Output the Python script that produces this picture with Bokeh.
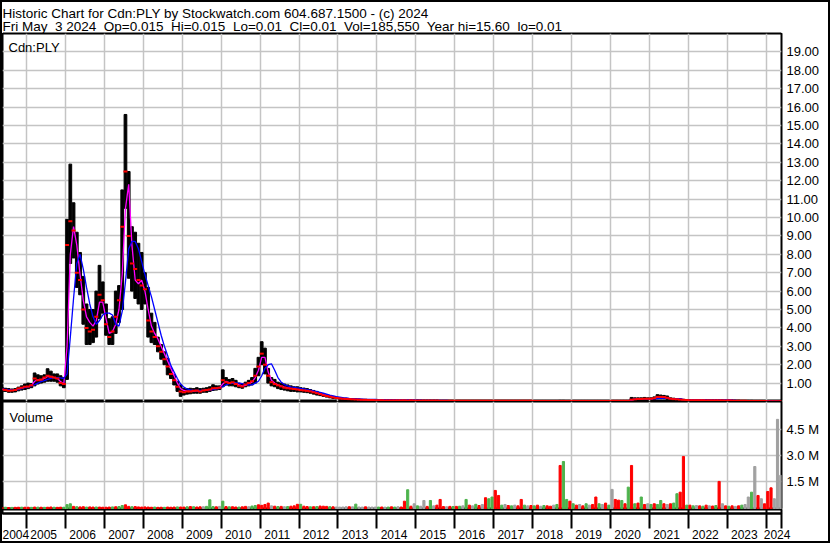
from bokeh.plotting import figure
from bokeh.models import (Range1d, LinearAxis, FixedTicker, Grid, Label, Span,
                          NumeralTickFormatter, PrintfTickFormatter, CustomJSTickFormatter,
                          ColumnDataSource)
from bokeh.layouts import column
from bokeh.embed import file_html
from bokeh.resources import INLINE

FONT = "Liberation Sans"

# ------------------------------------------------------------------ data
start_year, start_month = 2004, 5          # first monthly bar: May 2004
x_view = (2004.383, 2024.394)              # visible date span (fractional years)

price_high = [
    0.75, 0.72, 0.70, 0.68, 0.70, 0.78, 0.85, 0.95,                          # 2004
    1.00, 0.98, 1.55, 1.45, 1.40, 1.45, 1.78, 1.65, 1.50, 1.50, 1.40, 1.30,  # 2005
    9.9, 12.9, 10.8, 9.2, 8.1, 6.8, 5.3, 5.0, 5.0, 6.0, 7.4, 6.5,            # 2006
    5.3, 4.5, 4.6, 6.0, 6.3, 11.5, 15.6, 12.5, 9.5, 9.2, 8.6, 8.1,           # 2007
    7.0, 6.2, 4.8, 4.3, 3.5, 3.1, 2.7, 2.35, 1.8, 1.45, 1.1, 0.9,            # 2008
    0.70, 0.70, 0.72, 0.70, 0.75, 0.70, 0.72, 0.75, 0.80, 0.91, 0.85, 0.85,  # 2009
    1.72, 1.30, 1.20, 1.25, 1.15, 1.00, 0.95, 1.05, 1.15, 1.30, 1.80, 2.40,  # 2010
    3.25, 2.90, 1.80, 1.30, 1.20, 1.05, 1.00, 0.95, 0.90, 0.85, 0.80, 0.80,  # 2011
    0.75, 0.73, 0.70, 0.65, 0.60, 0.55, 0.48, 0.42, 0.36, 0.32, 0.28, 0.24,  # 2012
    0.21, 0.19, 0.17, 0.16, 0.15, 0.14, 0.13, 0.12, 0.12, 0.11, 0.10, 0.10,  # 2013
    0.10, 0.10, 0.09, 0.09, 0.09, 0.08, 0.08, 0.08, 0.08, 0.08, 0.09, 0.08,  # 2014
    0.08, 0.07, 0.07, 0.07, 0.07, 0.07, 0.07, 0.06, 0.06, 0.06, 0.06, 0.06,  # 2015
    0.06, 0.06, 0.06, 0.06, 0.06, 0.06, 0.06, 0.06, 0.06, 0.06, 0.06, 0.06,  # 2016
    0.06, 0.06, 0.06, 0.06, 0.06, 0.06, 0.06, 0.06, 0.06, 0.06, 0.06, 0.06,  # 2017
    0.05, 0.05, 0.05, 0.05, 0.05, 0.05, 0.05, 0.05, 0.06, 0.06, 0.05, 0.05,  # 2018
    0.05, 0.05, 0.05, 0.05, 0.05, 0.05, 0.05, 0.05, 0.05, 0.05, 0.05, 0.05,  # 2019
    0.05, 0.05, 0.05, 0.05, 0.05, 0.05, 0.22, 0.20, 0.20, 0.20, 0.22, 0.20,  # 2020
    0.20, 0.25, 0.37, 0.35, 0.33, 0.30, 0.20, 0.18, 0.16, 0.15, 0.12, 0.10,  # 2021
    0.10, 0.10, 0.10, 0.10, 0.10, 0.10, 0.09, 0.09, 0.09, 0.09, 0.09, 0.08,  # 2022
    0.10, 0.08, 0.07, 0.07, 0.06, 0.06, 0.06, 0.06, 0.05, 0.05, 0.05, 0.05,  # 2023
    0.04, 0.04, 0.03, 0.03, 0.015,                                           # 2024
]
price_low = [
    0.55, 0.55, 0.50, 0.50, 0.52, 0.58, 0.62, 0.65,
    0.70, 0.75, 0.85, 0.95, 1.00, 1.05, 1.10, 1.10, 1.10, 1.05, 0.85, 0.75,
    1.2, 7.5, 7.8, 6.2, 5.8, 4.2, 3.1, 3.1, 3.2, 3.5, 4.5, 4.8,
    3.6, 3.1, 3.1, 3.7, 4.3, 5.0, 10.5, 6.7, 6.0, 5.6, 5.3, 5.0,
    5.3, 3.5, 3.2, 3.1, 2.7, 2.3, 2.0, 1.45, 1.25, 0.9, 0.55, 0.28,
    0.35, 0.40, 0.42, 0.45, 0.45, 0.45, 0.50, 0.50, 0.55, 0.60, 0.62, 0.65,
    0.80, 0.90, 0.85, 0.85, 0.80, 0.75, 0.72, 0.80, 0.85, 0.90, 1.00, 1.40,
    2.00, 1.50, 1.00, 0.85, 0.80, 0.70, 0.65, 0.62, 0.58, 0.55, 0.55, 0.52,
    0.52, 0.50, 0.48, 0.45, 0.40, 0.35, 0.32, 0.28, 0.24, 0.20, 0.17, 0.15,
    0.13, 0.12, 0.11, 0.10, 0.09, 0.08, 0.08, 0.07, 0.07, 0.06, 0.06, 0.05,
    0.05, 0.05, 0.05, 0.04, 0.04, 0.04, 0.04, 0.04, 0.04, 0.04, 0.04, 0.04,
    0.03, 0.03, 0.03, 0.03, 0.03, 0.03, 0.03, 0.03, 0.03, 0.03, 0.03, 0.03,
    0.02, 0.02, 0.02, 0.02, 0.02, 0.02, 0.02, 0.02, 0.02, 0.02, 0.02, 0.02,
    0.02, 0.02, 0.02, 0.02, 0.02, 0.02, 0.02, 0.02, 0.02, 0.02, 0.02, 0.02,
    0.02, 0.02, 0.02, 0.02, 0.02, 0.02, 0.02, 0.02, 0.02, 0.02, 0.02, 0.02,
    0.02, 0.02, 0.02, 0.02, 0.02, 0.02, 0.02, 0.02, 0.02, 0.02, 0.02, 0.02,
    0.02, 0.02, 0.02, 0.02, 0.02, 0.02, 0.04, 0.06, 0.08, 0.08, 0.10, 0.10,
    0.10, 0.10, 0.15, 0.15, 0.15, 0.12, 0.10, 0.08, 0.08, 0.07, 0.06, 0.05,
    0.04, 0.04, 0.04, 0.04, 0.04, 0.04, 0.04, 0.04, 0.04, 0.04, 0.04, 0.03,
    0.03, 0.03, 0.02, 0.02, 0.02, 0.02, 0.02, 0.02, 0.02, 0.02, 0.02, 0.02,
    0.01, 0.01, 0.01, 0.01, 0.01,
]
price_close = [
    0.65, 0.62, 0.58, 0.60, 0.62, 0.70, 0.75, 0.80,
    0.82, 0.88, 1.25, 1.15, 1.20, 1.30, 1.40, 1.35, 1.30, 1.25, 1.00, 0.95,
    8.5, 9.8, 9.3, 7.0, 6.6, 5.0, 4.0, 3.8, 3.9, 4.6, 5.8, 5.5,
    4.2, 3.5, 3.8, 4.6, 5.5, 9.5, 12.5, 9.0, 7.5, 7.2, 6.6, 6.3,
    6.1, 4.4, 3.8, 3.5, 3.0, 2.7, 2.3, 1.9, 1.5, 1.15, 0.8, 0.55,
    0.50, 0.55, 0.55, 0.58, 0.60, 0.55, 0.60, 0.62, 0.65, 0.72, 0.72, 0.75,
    1.15, 1.05, 1.00, 1.05, 0.95, 0.85, 0.82, 0.92, 1.00, 1.10, 1.40, 1.90,
    2.60, 2.00, 1.40, 1.05, 0.95, 0.88, 0.82, 0.75, 0.72, 0.70, 0.68, 0.65,
    0.62, 0.60, 0.58, 0.55, 0.50, 0.45, 0.40, 0.34, 0.30, 0.26, 0.22, 0.19,
    0.17, 0.15, 0.14, 0.13, 0.12, 0.11, 0.10, 0.09, 0.09, 0.08, 0.08, 0.07,
    0.07, 0.07, 0.06, 0.06, 0.06, 0.06, 0.06, 0.06, 0.06, 0.05, 0.06, 0.05,
    0.05, 0.05, 0.05, 0.05, 0.05, 0.05, 0.05, 0.04, 0.04, 0.04, 0.04, 0.04,
    0.04, 0.04, 0.04, 0.04, 0.04, 0.04, 0.04, 0.04, 0.04, 0.04, 0.04, 0.04,
    0.04, 0.04, 0.04, 0.04, 0.04, 0.04, 0.04, 0.04, 0.04, 0.04, 0.04, 0.04,
    0.03, 0.03, 0.03, 0.03, 0.03, 0.03, 0.03, 0.03, 0.03, 0.03, 0.03, 0.03,
    0.03, 0.03, 0.03, 0.03, 0.03, 0.03, 0.03, 0.03, 0.03, 0.03, 0.03, 0.03,
    0.035, 0.035, 0.035, 0.035, 0.035, 0.035, 0.10, 0.12, 0.14, 0.14, 0.15, 0.15,
    0.15, 0.18, 0.25, 0.25, 0.24, 0.20, 0.15, 0.13, 0.12, 0.10, 0.09, 0.08,
    0.07, 0.07, 0.07, 0.07, 0.07, 0.06, 0.06, 0.06, 0.06, 0.06, 0.06, 0.05,
    0.06, 0.05, 0.04, 0.04, 0.04, 0.04, 0.03, 0.03, 0.03, 0.03, 0.03, 0.03,
    0.02, 0.02, 0.015, 0.01, 0.01,
]
ma_short = [   # magenta average
    0.66, 0.63, 0.60, 0.60, 0.62, 0.68, 0.74, 0.79,
    0.80, 0.86, 1.10, 1.18, 1.18, 1.26, 1.36, 1.36, 1.30, 1.26, 1.08, 0.95,
    3.0, 8.0, 9.5, 8.5, 6.9, 5.5, 4.6, 4.3, 4.1, 4.4, 5.4, 5.4,
    4.5, 3.7, 3.8, 4.2, 5.0, 6.9, 10.5, 11.8, 8.5, 6.6, 6.4, 6.6,
    6.0, 5.0, 4.1, 3.7, 3.4, 3.0, 2.6, 2.2, 1.8, 1.4, 1.0, 0.7,
    0.60, 0.56, 0.56, 0.57, 0.58, 0.58, 0.60, 0.61, 0.64, 0.68, 0.72, 0.74,
    0.95, 1.10, 1.03, 1.02, 1.00, 0.90, 0.84, 0.88, 0.97, 1.05, 1.30, 1.70,
    2.40, 2.40, 1.60, 1.15, 1.00, 0.90, 0.84, 0.78, 0.74, 0.71, 0.69, 0.66,
    0.63, 0.61, 0.59, 0.56, 0.52, 0.47, 0.42, 0.37, 0.32, 0.28, 0.24, 0.20,
    0.18, 0.16, 0.14, 0.13, 0.12, 0.11, 0.10, 0.10, 0.09, 0.09, 0.08, 0.08,
    0.07, 0.07, 0.07, 0.06, 0.06, 0.06, 0.06, 0.06, 0.06, 0.06, 0.06, 0.06,
    0.05, 0.05, 0.05, 0.05, 0.05, 0.05, 0.05, 0.05, 0.04, 0.04, 0.04, 0.04,
    0.04, 0.04, 0.04, 0.04, 0.04, 0.04, 0.04, 0.04, 0.04, 0.04, 0.04, 0.04,
    0.04, 0.04, 0.04, 0.04, 0.04, 0.04, 0.04, 0.04, 0.04, 0.04, 0.04, 0.04,
    0.035, 0.035, 0.035, 0.035, 0.035, 0.035, 0.035, 0.035, 0.035, 0.035, 0.035, 0.035,
    0.03, 0.03, 0.03, 0.03, 0.03, 0.03, 0.03, 0.03, 0.03, 0.03, 0.03, 0.03,
    0.035, 0.035, 0.035, 0.035, 0.035, 0.035, 0.08, 0.11, 0.13, 0.14, 0.14, 0.15,
    0.15, 0.17, 0.22, 0.25, 0.24, 0.21, 0.16, 0.14, 0.12, 0.11, 0.10, 0.08,
    0.07, 0.07, 0.07, 0.07, 0.07, 0.065, 0.06, 0.06, 0.06, 0.06, 0.06, 0.06,
    0.08, 0.06, 0.05, 0.04, 0.04, 0.04, 0.035, 0.03, 0.03, 0.03, 0.03, 0.03,
    0.03, 0.02, 0.02, 0.015, 0.012,
]
ma_long = [    # blue average
    0.68, 0.66, 0.64, 0.63, 0.63, 0.65, 0.70, 0.75,
    0.80, 0.85, 0.92, 1.00, 1.08, 1.14, 1.20, 1.26, 1.30, 1.30, 1.28, 1.25,
    1.5, 3.5, 5.6, 7.5, 8.0, 7.2, 6.2, 5.3, 4.6, 4.2, 4.4, 4.7,
    4.8, 4.8, 4.7, 4.2, 4.1, 4.9, 6.5, 8.3, 8.7, 8.7, 8.3, 7.6,
    6.9, 6.3, 5.7, 5.0, 4.3, 3.6, 3.0, 2.5, 1.95, 1.6, 1.25, 0.95,
    0.78, 0.68, 0.63, 0.60, 0.60, 0.60, 0.60, 0.60, 0.62, 0.65, 0.68, 0.72,
    0.80, 0.90, 0.97, 1.00, 1.00, 1.00, 0.97, 0.93, 0.90, 0.90, 1.00, 1.10,
    1.40, 1.80, 2.00, 2.05, 1.70, 1.30, 1.05, 0.92, 0.85, 0.80, 0.77, 0.74,
    0.71, 0.68, 0.65, 0.62, 0.58, 0.54, 0.50, 0.45, 0.40, 0.35, 0.31, 0.27,
    0.24, 0.21, 0.19, 0.17, 0.16, 0.15, 0.14, 0.13, 0.12, 0.12, 0.11, 0.11,
    0.10, 0.10, 0.10, 0.09, 0.09, 0.09, 0.08, 0.08, 0.08, 0.08, 0.07, 0.07,
    0.07, 0.07, 0.06, 0.06, 0.06, 0.06, 0.06, 0.06, 0.06, 0.06, 0.05, 0.05,
    0.05, 0.05, 0.05, 0.05, 0.05, 0.05, 0.05, 0.05, 0.05, 0.05, 0.05, 0.05,
    0.05, 0.05, 0.05, 0.05, 0.05, 0.05, 0.05, 0.05, 0.05, 0.05, 0.05, 0.05,
    0.045, 0.045, 0.045, 0.045, 0.045, 0.045, 0.045, 0.045, 0.045, 0.045, 0.045, 0.045,
    0.04, 0.04, 0.04, 0.04, 0.04, 0.04, 0.04, 0.04, 0.04, 0.04, 0.04, 0.04,
    0.04, 0.04, 0.04, 0.04, 0.04, 0.04, 0.10, 0.14, 0.14, 0.14, 0.14, 0.14,
    0.14, 0.15, 0.16, 0.17, 0.17, 0.17, 0.16, 0.15, 0.15, 0.14, 0.11, 0.10,
    0.10, 0.10, 0.09, 0.09, 0.09, 0.09, 0.08, 0.08, 0.08, 0.08, 0.08, 0.08,
    0.08, 0.07, 0.06, 0.05, 0.05, 0.05, 0.04, 0.04, 0.04, 0.04, 0.04, 0.04,
    0.035, 0.03, 0.03, 0.025, 0.02,
]
volume_k = [   # thousands of shares
    20, 30, 15, 20, 25, 30, 35, 30,
    30, 25, 40, 35, 30, 25, 30, 45, 30, 25, 35, 30,
    180, 230, 80, 60, 50, 60, 40, 50, 40, 45, 40, 30,
    30, 40, 50, 60, 70, 130, 170, 80, 60, 70, 50, 40,
    50, 40, 30, 40, 25, 30, 25, 40, 30, 40, 50, 45,
    40, 55, 70, 60, 45, 55, 60, 80, 460, 70, 55, 80,
    380, 70, 55, 60, 45, 40, 55, 80, 60, 100, 130, 170,
    140, 190, 270, 110, 90, 70, 80, 60, 70, 90, 110, 200,
    200, 90, 70, 55, 60, 70, 100, 90, 80, 60, 55, 45,
    40, 45, 55, 60, 55, 210, 45, 40, 55, 45, 40, 40,
    40, 45, 35, 40, 55, 40, 60, 45, 380, 1040, 90, 230,
    110, 90, 420, 80, 420, 110, 150, 480, 70, 60, 80, 70,
    80, 90, 110, 480, 150, 110, 200, 130, 190, 580, 520, 620,
    1000, 710, 150, 190, 130, 110, 150, 110, 480, 150, 110, 130,
    110, 150, 90, 130, 110, 90, 150, 190, 2440, 2670, 480, 380,
    230, 150, 190, 110, 230, 150, 190, 620, 230, 190, 270, 150,
    1060, 480, 440, 420, 230, 1190, 2440, 230, 270, 620, 190, 230,
    190, 230, 190, 420, 230, 190, 230, 270, 810, 900, 2960, 150,
    150, 110, 130, 110, 90, 150, 110, 100, 130, 1520, 230, 110,
    90, 110, 80, 110, 150, 190, 620, 900, 2380, 710, 520, 230,
    940, 1150, 520, 5100, 1870,
]
volume_dir = (   # r = down, g = up, k = unchanged
    "rgrgrrgr"
    "rgrgrgrrgrrg" "ggrgrrgrrgrr" "rrgrggrrgrrr" "rrrgrrgrrrgr" "rgrgrrkgggrk"
    "grgrrgrrkggr" "rrrkrgrkgrrr" "grrgrgrrrgrk" "kkkrkgkkrkkk" "grkgrgkrrgrk"
    "gkkrgkrrrkrg" "rgkgrkgrkrgg" "rrgkrgkrrgkr" "grkgrrkgrggr" "grkrgkrrgkrg"
    "krrgrgrgrgrk" "grggrkrggrrg" "rgkrgrkrgrkr" "grkrgkkgkrkr"
    "rrkkk"
)

price_ticks = list(range(1, 20))
volume_ticks_m = [1.5, 3.0, 4.5]
year_starts = list(range(2005, 2025))
year_names = [str(y) for y in range(2004, 2025)]

NB = "\u00a0"
header_line1 = "Historic Chart for Cdn:PLY by Stockwatch.com 604.687.1500 - (c) 2024"
header_line2 = (f"Fri May{NB} 3 2024{NB} Op=0.015{NB} Hi=0.015{NB} Lo=0.01{NB} Cl=0.01{NB} "
                f"Vol=185,550{NB} Year hi=15.60{NB} lo=0.01")

n = len(price_close)
assert all(len(a) == n for a in (price_high, price_low, ma_short, ma_long, volume_k)), "len"
assert len(volume_dir) == n, "dir len"

# ------------------------------------------------------------------ layout
INNER_W = 826
AXIS_W = 47
HEADER_H = 31
PRICE_H = 368
VOL_H = 108
STRIP_H = 32
LABEL_ROW_H = 15
GRID_C = "#C4C4C4"
VOL_RANGE = (-0.1, 6.13)

x_month = [start_year + (start_month - 1 + k + 0.5) / 12.0 for k in range(n)]
dir_colors = {"r": "#FF0000", "g": "#4DB34D", "k": "#A0A0A0"}

src = ColumnDataSource(dict(x=x_month, hi=price_high, lo=price_low, cl=price_close,
                            ms=ma_short, ml=ma_long))
vsrc = ColumnDataSource(dict(x=x_month, v=[q / 1000.0 for q in volume_k],
                             c=[dir_colors[ch] for ch in volume_dir]))

xr = Range1d(*x_view)


def panel(h, yr, **kw):
    return figure(width=INNER_W, height=h, x_range=xr, y_range=yr, output_backend="svg",
                  toolbar_location=None, x_axis_type=None, y_axis_type=None,
                  min_border=0, min_border_right=AXIS_W,
                  outline_line_color="black", outline_line_width=2,
                  background_fill_color="white", border_fill_color="white", **kw)


def right_axis(ticks, formatter):
    return LinearAxis(ticker=FixedTicker(ticks=ticks), formatter=formatter,
                      axis_line_color=None, major_tick_line_color=None,
                      minor_tick_line_color=None, major_tick_in=0, major_tick_out=0,
                      major_label_standoff=5, major_label_text_font=FONT,
                      major_label_text_font_size="13px", major_label_text_color="black")


# header
hdr = figure(width=INNER_W, height=HEADER_H, x_range=Range1d(0, INNER_W),
             y_range=Range1d(0, HEADER_H), output_backend="svg", toolbar_location=None,
             x_axis_type=None, y_axis_type=None, min_border=0, outline_line_color=None,
             background_fill_color="white", border_fill_color="white")
hdr.add_layout(Label(x=0, y=HEADER_H - 11.3, x_units="screen", y_units="screen",
                     text=header_line1, text_font=FONT, text_font_size="13.5px",
                     text_baseline="alphabetic", text_color="black"))
hdr.add_layout(Label(x=0, y=7.5, x_units="screen", y_units="screen", text=header_line2,
                     text_font=FONT, text_font_size="13.5px", text_baseline="alphabetic",
                     text_color="black"))
hdr.add_layout(Span(location=0, dimension="width", line_color="black", line_width=2))

# price panel
pp = panel(PRICE_H, Range1d(0, 20))
pp.add_layout(Grid(dimension=0, ticker=FixedTicker(ticks=year_starts),
                   grid_line_color=GRID_C, grid_line_width=1.5))
pp.add_layout(Grid(dimension=1, ticker=FixedTicker(ticks=price_ticks),
                   grid_line_color=GRID_C, grid_line_width=1.5))
pp.add_layout(right_axis(price_ticks, NumeralTickFormatter(format="0.00")), "right")
pp.vbar(x="x", top="hi", bottom="lo", width=0.07, source=src, color="black")
pp.line("x", "ms", source=src, line_color="#FF00FF", line_width=1.3)
pp.line("x", "ml", source=src, line_color="#0000FF", line_width=1.3)
pp.scatter("x", "cl", source=src, marker="dash", size=4, line_width=2, line_color="#FF0000")
pp.add_layout(Label(x=6, y=PRICE_H - 14, x_units="screen", y_units="screen", text="Cdn:PLY",
                    text_font=FONT, text_font_size="13px", text_baseline="alphabetic",
                    text_color="black"))

# volume panel
vp = panel(VOL_H, Range1d(*VOL_RANGE))
vp.add_layout(Grid(dimension=0, ticker=FixedTicker(ticks=year_starts),
                   grid_line_color=GRID_C, grid_line_width=1.5))
vp.add_layout(Grid(dimension=1, ticker=FixedTicker(ticks=volume_ticks_m),
                   grid_line_color=GRID_C, grid_line_width=1.5))
vp.add_layout(right_axis(volume_ticks_m, PrintfTickFormatter(format="%.1f M")), "right")
vp.vbar(x="x", top="v", bottom=VOL_RANGE[0], width=0.055, color="c", source=vsrc)
vp.add_layout(Label(x=7, y=VOL_H - 16, x_units="screen", y_units="screen", text="Volume",
                    text_font=FONT, text_font_size="13px", text_baseline="alphabetic",
                    text_color="black"))

# date strip: empty box row (frame) + year-label row (bottom axis)
sp = panel(STRIP_H, Range1d(0, 1), min_border_bottom=LABEL_ROW_H)
sp.add_layout(Grid(dimension=0, ticker=FixedTicker(ticks=year_starts),
                   grid_line_color="black", grid_line_width=2))
label_x = ([(x_view[0] + year_starts[0]) / 2.0] + [y + 0.44 for y in year_starts[:-1]]
           + [year_starts[-1] + 0.28])
year_axis = LinearAxis(
    ticker=FixedTicker(ticks=label_x, minor_ticks=year_starts + [x_view[1]]),
    formatter=CustomJSTickFormatter(args=dict(names=year_names, pos=label_x), code="""
        let best = 0;
        for (let i = 0; i < pos.length; i++) {
            if (Math.abs(pos[i] - tick) < Math.abs(pos[best] - tick)) best = i;
        }
        return names[best];
    """),
    axis_line_color="black", axis_line_width=2,
    major_tick_line_color=None, major_tick_in=0, major_tick_out=0,
    minor_tick_line_color="black", minor_tick_line_width=2, minor_tick_in=0,
    minor_tick_out=LABEL_ROW_H,
    major_label_standoff=1, major_label_text_font=FONT, major_label_text_font_size="12px",
    major_label_text_color="black")
sp.add_layout(year_axis, "below")

layout = column(hdr, pp, vp, sp, styles={"border": "2px solid black"})

open("out.html", "w").write(file_html(layout, INLINE))
